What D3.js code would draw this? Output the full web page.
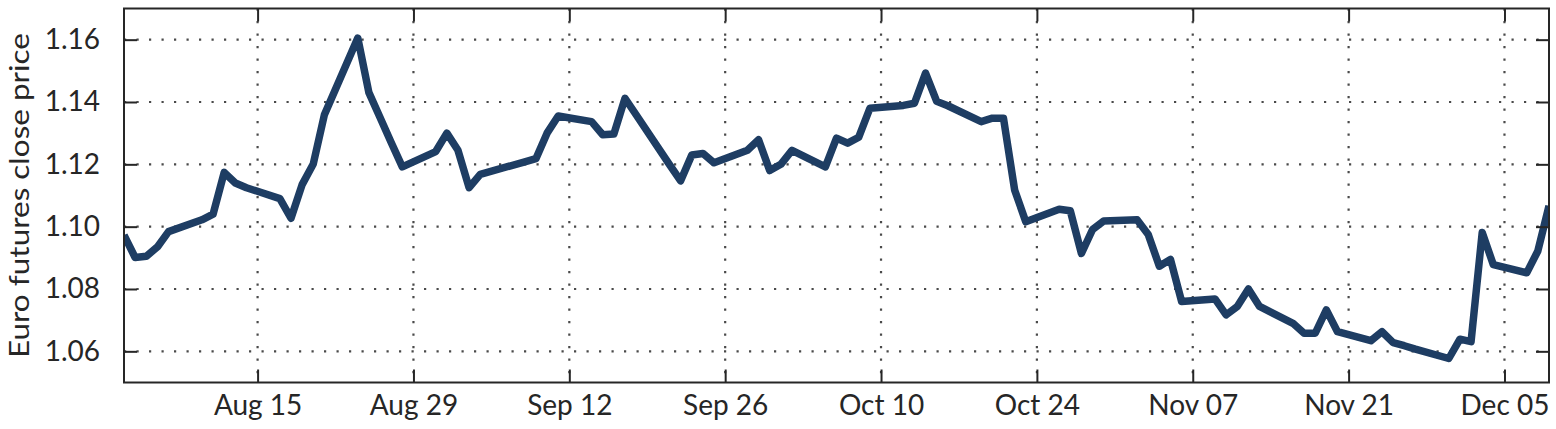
<!DOCTYPE html>
<html>
<head>
<meta charset="utf-8">
<script src="https://cdn.jsdelivr.net/npm/d3@7"></script>
<style>
  body { margin: 0; background: #fff; }
  svg { display: block; }
</style>
</head>
<body>
<svg class="chart_svg"><g class="g_1"></g></svg>
<script>
// daily close values
const dates = [
  "2015-08-03","2015-08-04","2015-08-05","2015-08-06","2015-08-07",
  "2015-08-10","2015-08-11","2015-08-12","2015-08-13","2015-08-14",
  "2015-08-17","2015-08-18","2015-08-19","2015-08-20","2015-08-21",
  "2015-08-24","2015-08-25","2015-08-26","2015-08-27","2015-08-28",
  "2015-08-31","2015-09-01","2015-09-02","2015-09-03","2015-09-04",
  "2015-09-08","2015-09-09","2015-09-10","2015-09-11",
  "2015-09-14","2015-09-15","2015-09-16","2015-09-17","2015-09-18",
  "2015-09-21","2015-09-22","2015-09-23","2015-09-24","2015-09-25",
  "2015-09-28","2015-09-29","2015-09-30","2015-10-01","2015-10-02",
  "2015-10-05","2015-10-06","2015-10-07","2015-10-08","2015-10-09",
  "2015-10-12","2015-10-13","2015-10-14","2015-10-15","2015-10-16",
  "2015-10-19","2015-10-20","2015-10-21","2015-10-22","2015-10-23",
  "2015-10-26","2015-10-27","2015-10-28","2015-10-29","2015-10-30",
  "2015-11-02","2015-11-03","2015-11-04","2015-11-05","2015-11-06",
  "2015-11-09","2015-11-10","2015-11-11","2015-11-12","2015-11-13",
  "2015-11-16","2015-11-17","2015-11-18","2015-11-19","2015-11-20",
  "2015-11-23","2015-11-24","2015-11-25","2015-11-26","2015-11-27",
  "2015-11-30","2015-12-01","2015-12-02","2015-12-03","2015-12-04",
  "2015-12-07","2015-12-08","2015-12-09"
]
const closes = [
  1.0973, 1.0901, 1.0905, 1.0935, 1.0984,
  1.1022, 1.1040, 1.1174, 1.1140, 1.1125,
  1.1090, 1.1027, 1.1135, 1.1201, 1.1359,
  1.1605, 1.1430, 1.1350, 1.1270, 1.1192,
  1.1241, 1.1300, 1.1245, 1.1125, 1.1168,
  1.1208, 1.1218, 1.1300, 1.1355,
  1.1337, 1.1295, 1.1297, 1.1412, 1.1359,
  1.1199, 1.1147, 1.1230, 1.1235, 1.1205,
  1.1245, 1.1279, 1.1180, 1.1200, 1.1245,
  1.1192, 1.1284, 1.1268, 1.1287, 1.1380,
  1.1389, 1.1396, 1.1493, 1.1402, 1.1388,
  1.1337, 1.1348, 1.1348, 1.1118, 1.1016,
  1.1056, 1.1051, 1.0914, 1.0991, 1.1018,
  1.1022, 1.0975, 1.0873, 1.0895, 1.0760,
  1.0768, 1.0717, 1.0744, 1.0800, 1.0744,
  1.0690, 1.0658, 1.0658, 1.0733, 1.0663,
  1.0634, 1.0663, 1.0628, 1.0618, 1.0607,
  1.0577, 1.0639, 1.0631, 1.0981, 1.0878,
  1.0852, 1.0922, 1.1067
]

const xTickDates = ["2015-08-15","2015-08-29","2015-09-12","2015-09-26","2015-10-10",
                    "2015-10-24","2015-11-07","2015-11-21","2015-12-05"]
const xTickLabels = ["Aug 15","Aug 29","Sep 12","Sep 26","Oct 10","Oct 24","Nov 07","Nov 21","Dec 05"]
const yTicks = [1.06, 1.08, 1.10, 1.12, 1.14, 1.16]
const yLabel = "Euro futures close price"

var margin = {top: 8.5, right: 7, bottom: 46.5, left: 124},
  w = 1556 - margin.left - margin.right,
  h = 429 - margin.top - margin.bottom;

var parse = d3.timeParse('%Y-%m-%d')
var data = dates.map((d, i) => ({date: parse(d), close: closes[i]}))
var tickDates = xTickDates.map(parse)

var svg = d3.select('.chart_svg')
  .attr('width', w + margin.left + margin.right)
  .attr('height', h + margin.top + margin.bottom)

var container = svg.select('.g_1')
  .attr('transform', `translate(${margin.left}, ${margin.top})`)

const x_scale = d3.scaleTime()
  .domain([parse('2015-08-03'), parse('2015-12-09')])
  .range([0, w])

const y_scale = d3.scaleLinear()
  .domain([1.05, 1.17])
  .range([h, 0])

var fontFam = 'Lato, "Open Sans", sans-serif'
var ink = '#262626'

//grid
container.selectAll('.hgrid')
  .data(yTicks)
  .join('line')
  .attr('class', 'hgrid')
  .attr('x1', 0).attr('x2', w)
  .attr('y1', d => y_scale(d)).attr('y2', d => y_scale(d))

container.selectAll('.vgrid')
  .data(tickDates)
  .join('line')
  .attr('class', 'vgrid')
  .attr('x1', d => x_scale(d)).attr('x2', d => x_scale(d))
  .attr('y1', 0).attr('y2', h)

container.selectAll('.hgrid, .vgrid')
  .attr('stroke', '#4a4a4a')
  .attr('stroke-width', 2.2)
  .attr('stroke-dasharray', '2.2,10.3')

//line
container.append('clipPath')
  .attr('id', 'plot_clip')
  .append('rect')
  .attr('width', w).attr('height', h)

container.append('path')
  .datum(data)
  .attr('clip-path', 'url(#plot_clip)')
  .attr('fill', 'none')
  .attr('stroke', '#1e3d63')
  .attr('stroke-width', 7.5)
  .attr('stroke-linejoin', 'round')
  .attr('d', d3.line()
    .x(d => x_scale(d.date))
    .y(d => y_scale(d.close)))

//x axis stuff
container.append('g')
  .attr('class', 'x_axis_g')
  .attr('transform', `translate(0, ${h})`)
  .call(d3.axisBottom(x_scale)
    .tickValues(tickDates)
    .tickFormat((d, i) => xTickLabels[i])
    .tickSizeInner(-13).tickSizeOuter(0).tickPadding(13))

container.append('g')
  .attr('class', 'top_axis_g')
  .call(d3.axisTop(x_scale)
    .tickValues(tickDates)
    .tickFormat('')
    .tickSizeInner(-13).tickSizeOuter(0))

//y axis stuff
container.append('g')
  .attr('class', 'y_axis_g')
  .call(d3.axisLeft(y_scale)
    .tickValues(yTicks)
    .tickFormat(d3.format('.2f'))
    .tickSizeInner(-13).tickSizeOuter(0).tickPadding(24))

container.append('g')
  .attr('class', 'right_axis_g')
  .attr('transform', `translate(${w}, 0)`)
  .call(d3.axisRight(y_scale)
    .tickValues(yTicks)
    .tickFormat('')
    .tickSizeInner(-13).tickSizeOuter(0))

container.selectAll('.domain').remove()
container.selectAll('.tick line')
  .attr('stroke', ink)
  .attr('stroke-width', 2)
container.selectAll('.x_axis_g text, .y_axis_g text')
  .attr('fill', ink)
  .attr('font-family', fontFam)
  .attr('font-size', 28)

// frame
container.append('rect')
  .attr('width', w).attr('height', h)
  .attr('fill', 'none')
  .attr('stroke', ink)
  .attr('stroke-width', 2)

svg.append('text')
  .attr('class', 'y_axis_label')
  .attr('transform', `translate(29, ${margin.top + h / 2}) rotate(-90)`)
  .attr('text-anchor', 'middle')
  .attr('fill', ink)
  .attr('font-family', fontFam)
  .attr('font-size', 27)
  .attr('textLength', 325)
  .attr('lengthAdjust', 'spacingAndGlyphs')
  .text(yLabel)
</script>
</body>
</html>
